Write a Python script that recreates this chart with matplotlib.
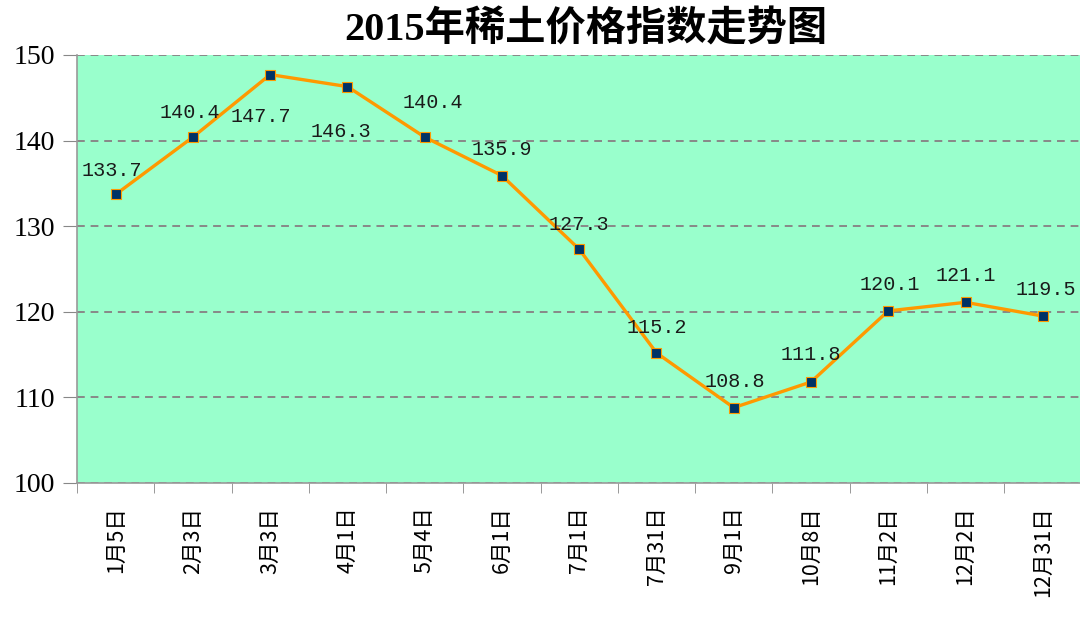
import numpy as np
import matplotlib.pyplot as plt

plt.rcParams['font.family'] = ['Liberation Serif', 'Noto Sans CJK SC', 'DejaVu Sans']

# data
dates = ['1月5日', '2月3日', '3月3日', '4月1日', '5月4日', '6月1日', '7月1日',
         '7月31日', '9月1日', '10月8日', '11月2日', '12月2日', '12月31日']
index_values = [133.7, 140.4, 147.7, 146.3, 140.4, 135.9, 127.3,
                115.2, 108.8, 111.8, 120.1, 121.1, 119.5]
title = '2015年稀土价格指数走势图'

# label offsets (points) relative to each marker
label_offsets = [(-3, 17), (-2, 18), (-7, -30), (-5, -32), (6, 25), (0, 19), (0, 18),
                 (0, 18), (1, 19), (0, 20), (1, 19), (0, 19), (2, 19)]

fig = plt.figure(figsize=(10.8, 6.24), dpi=100)
ax = fig.add_axes([0.0713, 0.226, 0.93, 0.686])
ax.set_facecolor('#99FFCC')

x = np.arange(len(dates))
ax.plot(x, index_values, color='#FF9900', lw=2.4, marker='s', markersize=7,
        markerfacecolor='#003366', markeredgecolor='#FF9900', markeredgewidth=0.8, zorder=3)

for xi, v, off in zip(x, index_values, label_offsets):
    ax.annotate('{0:.1f}'.format(v), (xi, v), xytext=off, textcoords='offset points',
                ha='center', va='center', fontsize=14.5, family=['Liberation Mono'],
                color='#1a1a1a', zorder=4)

ax.set_xlim(-0.5, len(dates) - 0.5)
ax.set_ylim(100, 150)
ax.set_yticks([100, 110, 120, 130, 140, 150])
ax.yaxis.grid(True, linestyle=(0, (4, 3)), color='#888888', lw=1.4)
ax.set_axisbelow(True)

ax.set_xticks(x)
ax.set_xticklabels(dates, rotation=90, family=['Noto Sans CJK SC'], fontsize=15.5, va='top')
ax.tick_params(axis='x', which='major', length=0, pad=17)
ax.set_xticks(np.arange(len(dates) + 1) - 0.5, minor=True)
ax.tick_params(axis='x', which='minor', length=7, color='#888888')
ax.tick_params(axis='y', length=10, color='#888888', labelsize=20, pad=6)

for s in ['top', 'right']:
    ax.spines[s].set_visible(False)
for s in ['left', 'bottom']:
    ax.spines[s].set_color('#999999')
    ax.spines[s].set_linewidth(1.2)

fig.text(0.542, 0.952, title, ha='center', va='center', fontsize=29, fontweight='bold',
         family=['Liberation Serif', 'Noto Sans CJK SC'])

fig.savefig('out.png', dpi=100)
